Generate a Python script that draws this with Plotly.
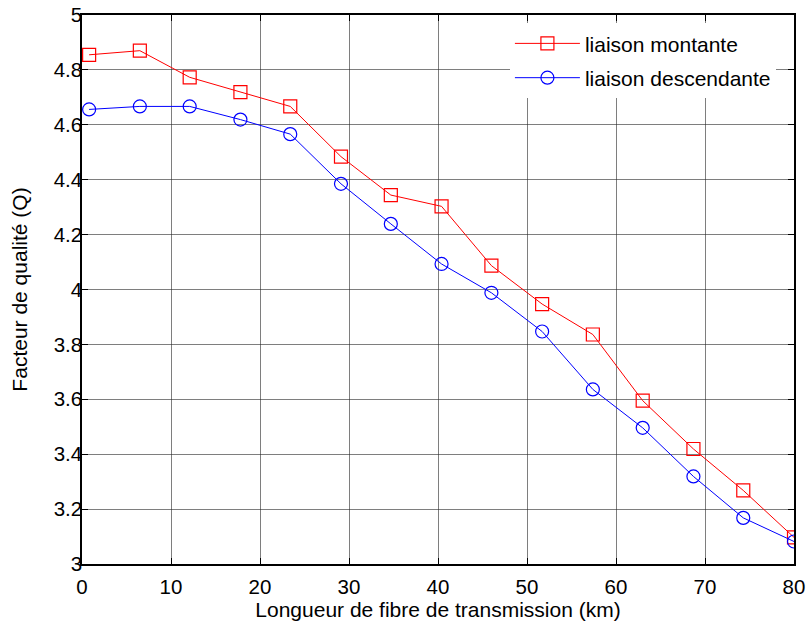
import plotly.graph_objects as go

# Fibre length (km) at each measurement point
longueur_km = [0.8, 6.5, 12.1, 17.8, 23.4, 29.1, 34.7, 40.4, 46.0, 51.7,
               57.4, 63.0, 68.7, 74.3, 80.0]

# Quality factor Q for each link direction
q_montante = [4.855, 4.870, 4.773, 4.719, 4.667, 4.484, 4.344, 4.303, 4.087,
              3.947, 3.836, 3.595, 3.419, 3.268, 3.097]
q_descendante = [4.656, 4.667, 4.667, 4.619, 4.566, 4.385, 4.239, 4.093,
                 3.988, 3.847, 3.636, 3.496, 3.319, 3.168, 3.082]

x_ticks = [0, 10, 20, 30, 40, 50, 60, 70, 80]
y_ticks = [3, 3.2, 3.4, 3.6, 3.8, 4, 4.2, 4.4, 4.6, 4.8, 5]
y_tick_labels = ["3", "3.2", "3.4", "3.6", "3.8", "4", "4.2", "4.4", "4.6", "4.8", "5"]

FONT = "Liberation Sans, Arial, sans-serif"

fig = go.Figure()
fig.add_trace(go.Scatter(
    x=longueur_km, y=q_montante, name="liaison montante",
    mode="lines+markers", legendgroup="m",
    line=dict(color="#ff0000", width=1),
    marker=dict(symbol="square-open", size=13, color="#ff0000",
                line=dict(width=1.2, color="#ff0000")),
))
fig.add_trace(go.Scatter(
    x=longueur_km, y=q_descendante, name="liaison descendante",
    mode="lines+markers", legendgroup="d",
    line=dict(color="#0000ff", width=1),
    marker=dict(symbol="circle-open", size=13, color="#0000ff",
                line=dict(width=1.2, color="#0000ff")),
))

axis_common = dict(
    showline=True, linecolor="black", linewidth=1.5, mirror="allticks",
    ticks="inside", ticklen=6, tickcolor="black", tickwidth=1,
    showgrid=True, gridcolor="rgba(40,40,40,0.6)", gridwidth=1,
    zeroline=False,
    tickfont=dict(family=FONT, size=20.5, color="black"),
)

fig.update_xaxes(
    range=[0, 80], tickvals=x_ticks,
    ticklabelstandoff=4,
    title=dict(text="Longueur de fibre de transmission (km)",
               font=dict(family=FONT, size=21, color="black"), standoff=0),
    **axis_common,
)
fig.update_yaxes(
    range=[3, 5], tickvals=y_ticks, ticktext=y_tick_labels,
    ticklabelstandoff=-6,
    title=dict(text="Facteur de qualité (Q)",
               font=dict(family=FONT, size=21, color="black"), standoff=20),
    **axis_common,
)

fig.update_layout(
    width=809, height=628,
    margin=dict(l=82, r=15, t=15, b=64, autoexpand=False),
    paper_bgcolor="white", plot_bgcolor="white",
    font=dict(family=FONT, size=21, color="black"),
    showlegend=True,
    legend=dict(
        x=0.601, y=0.985, xanchor="left", yanchor="top",
        bgcolor="white", borderwidth=0,
        itemwidth=65, tracegroupgap=4, traceorder="grouped",
        font=dict(family=FONT, size=21, color="black"),
    ),
)

fig.write_html("out.html")
